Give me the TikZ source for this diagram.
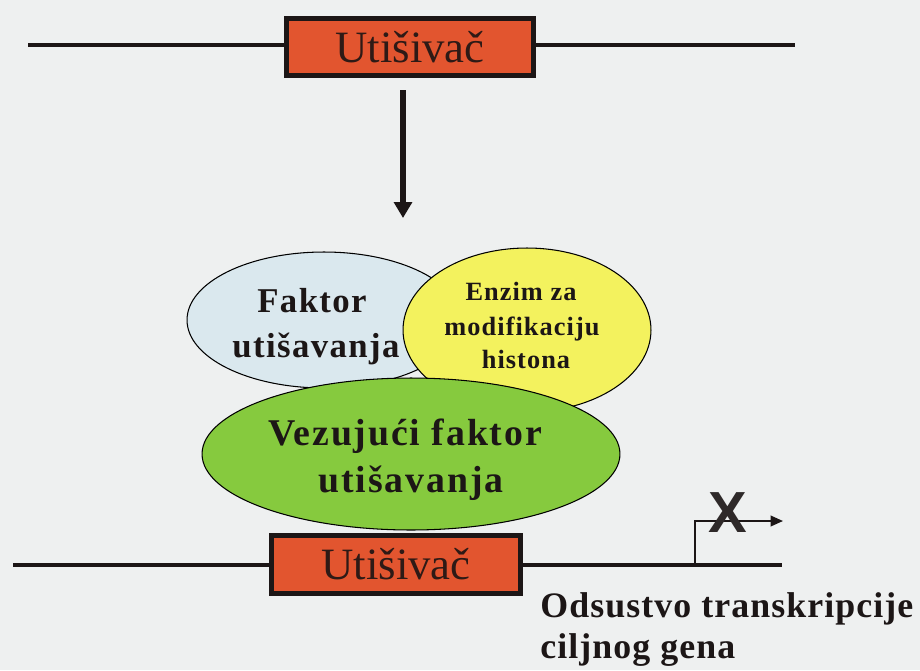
\documentclass[tikz,border=0pt]{standalone}
\usepackage{fontspec}
\setmainfont{Liberation Serif}
\newfontfamily\xsans{Liberation Sans}
\newfontfamily\fblue[LetterSpace=4]{Liberation Serif}
\newfontfamily\fyel[LetterSpace=4]{Liberation Serif}
\newfontfamily\fgrn[LetterSpace=5]{Liberation Serif}
\newfontfamily\fbot[LetterSpace=3]{Liberation Serif}
\usetikzlibrary{shapes.geometric,arrows.meta}
\definecolor{bgc}{HTML}{EEF0F0}
\definecolor{boxc}{HTML}{E2552F}
\definecolor{bluec}{HTML}{DAE8EE}
\definecolor{yelc}{HTML}{F3F25E}
\definecolor{grnc}{HTML}{86CA3E}
\definecolor{inkc}{HTML}{1C1616}
\definecolor{boxtxt}{HTML}{2E1A16}
\tikzset{
  dna/.style={line width=2.8pt, draw=inkc},
  silbox/.style={draw=inkc, line width=2.6pt, fill=boxc, inner sep=0,
    font=\fontsize{25.5}{28}\selectfont, text=boxtxt},
  blob/.style={ellipse, draw=black, line width=0.6pt, inner sep=0},
  lbl/.style={anchor=base, inner sep=0, text=inkc},
}
\begin{document}
\begin{tikzpicture}[x=0.02cm,y=-0.02cm]
\fill[bgc] (0,0) rectangle (920,670);
\useasboundingbox (0,0) rectangle (920,670);
% top DNA
\coordinate (tl) at (28,45);
\coordinate (tr) at (795,45);
\node[silbox, minimum width=4.94cm, minimum height=1.14cm] (top) at (410,47) {Utišivač};
\draw[dna] (tl) -- (tl -| top.west);
\draw[dna] (top.east |- tr) -- (tr);
% arrow
\coordinate (a0) at (403,90);
\coordinate (a1) at (403,218);
\draw[line width=3pt, draw=inkc, -{Triangle[length=9pt,width=10pt]}] (a0) -- (a1);
% blobs
\node[blob, fill=bluec, minimum width=5.48cm, minimum height=2.72cm] (blue) at (324,320) {};
\node[lbl, font=\fblue\bfseries\fontsize{19.8}{22}\selectfont] (b1) at (312,312) {Faktor};
\node[lbl, font=\fblue\bfseries\fontsize{19.8}{22}\selectfont] (b2) at (316,357) {utišavanja};
\node[blob, fill=yelc, minimum width=4.96cm, minimum height=3.28cm] (yel) at (527,330) {};
\node[lbl, font=\fyel\bfseries\fontsize{15}{17}\selectfont] (y1) at (521,300) {Enzim za};
\node[lbl, font=\fyel\bfseries\fontsize{15}{17}\selectfont] (y2) at (522,335) {modifikaciju};
\node[lbl, font=\fyel\bfseries\fontsize{15}{17}\selectfont] (y3) at (526,368) {histona};
\node[blob, fill=grnc, minimum width=8.36cm, minimum height=3.04cm] (grn) at (411,454) {};
\node[lbl, font=\fgrn\bfseries\fontsize{21.5}{24}\selectfont] (g1) at (405,445) {Vezujući faktor};
\node[lbl, font=\fgrn\bfseries\fontsize{21.5}{24}\selectfont] (g2) at (411,492) {utišavanja};
% bottom DNA
\coordinate (bl) at (13,565);
\coordinate (br) at (782,565);
\node[silbox, minimum width=4.98cm, minimum height=1.16cm] (bot) at (396,564.5) {Utišivač};
\draw[dna] (bl) -- (bl -| bot.west);
\draw[dna] (bot.east |- br) -- (br);
% promoter
\coordinate (p0) at (695,565);
\coordinate (p1) at (695,521);
\coordinate (p2) at (783,521);
\draw[line width=1.1pt, draw=inkc, -{Triangle[length=7pt,width=6pt]}] (p0) -- (p1) -- (p2);
\node[font=\xsans\bfseries\fontsize{33}{35}\selectfont, text=inkc!92!white, inner sep=0] (x) at (728,513) {X};
% caption
\node[lbl, anchor=base west, font=\fbot\bfseries\fontsize{20.4}{23}\selectfont] (c1) at (540,617) {Odsustvo transkripcije};
\node[lbl, anchor=base west, font=\fbot\bfseries\fontsize{20.4}{23}\selectfont] (c2) at (540,658) {ciljnog gena};
\end{tikzpicture}
\end{document}
